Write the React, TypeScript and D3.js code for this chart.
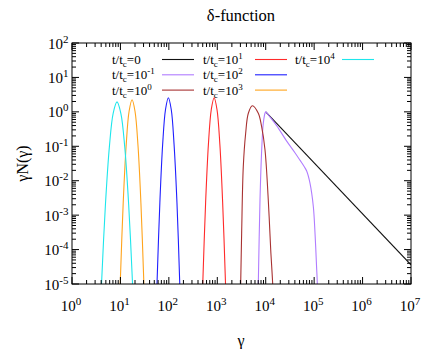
import React from "react";
import * as d3 from "d3";

// gamma, gamma*N(gamma) for each t/tc
const curveT0 = [[1e4, 1.0], [1e7, 3.6e-5]];
const curveTm1 = [
  [6918, 3.2e-6], [7031, 1e-5], [7621, 2.75e-3], [8260, 0.079], [8913, 0.468],
  [9772, 0.955], [10000, 1.0], [12589, 0.676], [16827, 0.398], [27102, 0.141],
  [39811, 0.066], [51286, 0.039], [63096, 0.0251], [70146, 0.0191], [82035, 8.5e-3],
  [96161, 1.78e-3], [103990, 3.2e-4], [112202, 3.2e-5], [116413, 1e-5], [118850, 2.5e-6],
];
const curveT0e = [
  [2951, 2.5e-6], [3041, 1e-5], [3184, 2.95e-4], [3443, 0.0257], [3855, 0.24],
  [4375, 0.91], [5297, 1.51], [7031, 0.91], [8241, 0.37], [9661, 0.079],
  [11298, 2.75e-3], [12677, 1e-4], [13932, 1e-5], [14289, 3.2e-6],
];
const curveT1 = [
  [474, 7.3e-7], [501, 1e-5], [574, 2.3e-3], [656, 0.115], [752, 1.17], [861, 2.57],
  [986, 1.17], [1130, 0.115], [1291, 2.3e-3], [1479, 1e-5], [1563, 7.3e-7],
];
const curveT2 = [
  [53.8, 7.3e-7], [56.9, 1e-5], [65.2, 2.3e-3], [74.5, 0.115], [85.3, 1.17], [97.7, 2.57],
  [112, 1.17], [128, 0.115], [147, 2.3e-3], [168, 1e-5], [177, 7.3e-7],
];
const curveT3 = [
  [9.3, 7.6e-7], [9.9, 1e-5], [11.4, 2.2e-3], [13.1, 0.1], [15.1, 1.04], [17.4, 2.24],
  [20.0, 1.04], [23.1, 0.1], [26.5, 2.2e-3], [30.5, 1e-5], [32.4, 7.6e-7],
];
const curveT4 = [
  [3.78, 7.8e-7], [4.07, 1e-5], [4.9, 2.0e-3], [5.9, 0.093], [7.08, 0.91], [8.5, 1.95],
  [10.2, 0.91], [12.3, 0.093], [14.8, 2.0e-3], [17.8, 1e-5], [19.1, 7.8e-7],
];

const seriesExp = ["0", "-1", "0", "1", "2", "3", "4"];
const seriesPlain = [true, false, false, false, false, false, false];
const seriesData = [curveT0, curveTm1, curveT0e, curveT1, curveT2, curveT3, curveT4];
const seriesColors = ["#111111", "#b07cff", "#a83232", "#ff2a2a", "#1f1fff", "#ffa41c", "#1ee6ec"];

const xExps = [0, 1, 2, 3, 4, 5, 6, 7];
const yExps = [-5, -4, -3, -2, -1, 0, 1, 2];

const W = 436, H = 349;
const L = 72, R = 411, T = 43, B = 284;

const FONT = "Liberation Serif, DejaVu Serif, serif";

export default function App() {
  const x = d3.scaleLog().domain([1, 1e7]).range([L, R]);
  const y = d3.scaleLog().domain([1e-5, 1e2]).range([B, T]);
  const line = d3.line<number[]>()
    .x((d) => x(d[0]))
    .y((d) => y(d[1]))
    .curve(d3.curveCatmullRom.alpha(0.5));

  // minor ticks 2..9 per decade
  const xMinor: number[] = [];
  xExps.slice(0, -1).forEach((e) => { for (let k = 2; k < 10; k++) xMinor.push(k * Math.pow(10, e)); });
  const yMinor: number[] = [];
  yExps.slice(0, -1).forEach((e) => { for (let k = 2; k < 10; k++) yMinor.push(k * Math.pow(10, e)); });

  const major = 7, minor = 4;

  const legendCols = [112, 203, 295];
  const legendLineX = [162, 255, 342];
  const legendRows = [59.5, 74.8, 90.1];

  return (
    <svg width={W} height={H} style={{ position: "absolute", left: 0, top: 0, background: "#fff", fontFamily: FONT }}>
      <defs>
        <clipPath id="plot">
          <rect x={L} y={T} width={R - L} height={B - T} />
        </clipPath>
      </defs>
      <text x={241} y={21} fontSize={16.5} textAnchor="middle" style={{ fontFamily: FONT }}>δ-function</text>

      {/* curves */}
      <g clipPath="url(#plot)" fill="none" strokeWidth={1.1}>
        {seriesData.map((d, i) => (
          <path key={i} d={line(d) || ""} stroke={seriesColors[i]} />
        ))}
      </g>

      {/* ticks */}
      <g stroke="#000" strokeWidth={1}>
        {xExps.map((e) => {
          const px = x(Math.pow(10, e));
          return (
            <g key={"xm" + e}>
              <line x1={px} x2={px} y1={B} y2={B - major} />
              <line x1={px} x2={px} y1={T} y2={T + major} />
            </g>
          );
        })}
        {xMinor.map((v, i) => (
          <g key={"xn" + i}>
            <line x1={x(v)} x2={x(v)} y1={B} y2={B - minor} />
            <line x1={x(v)} x2={x(v)} y1={T} y2={T + minor} />
          </g>
        ))}
        {yExps.map((e) => {
          const py = y(Math.pow(10, e));
          return (
            <g key={"ym" + e}>
              <line x1={L} x2={L + major} y1={py} y2={py} />
              <line x1={R} x2={R - major} y1={py} y2={py} />
            </g>
          );
        })}
        {yMinor.map((v, i) => (
          <g key={"yn" + i}>
            <line x1={L} x2={L + minor} y1={y(v)} y2={y(v)} />
            <line x1={R} x2={R - minor} y1={y(v)} y2={y(v)} />
          </g>
        ))}
      </g>
      <rect x={L} y={T} width={R - L} height={B - T} fill="none" stroke="#000" strokeWidth={1} />

      <g style={{ fontFamily: FONT }}>
        {/* tick labels */}
        {xExps.map((e) => (
          <text key={"xl" + e} x={x(Math.pow(10, e)) - 1} y={310.5} fontSize={15} textAnchor="middle">
            10<tspan fontSize={11} dy={-6}>{e}</tspan>
          </text>
        ))}
        {yExps.map((e) => (
          <text key={"yl" + e} x={68.5} y={y(Math.pow(10, e)) + 5.5} fontSize={15} textAnchor="end">
            10<tspan fontSize={11} dy={-6}>{e}</tspan>
          </text>
        ))}

        {/* axis labels */}
        <text x={241} y={346} fontSize={16} textAnchor="middle">γ</text>
        <text transform={`translate(28,${(T + B) / 2}) rotate(-90)`} fontSize={16} textAnchor="middle">γN(γ)</text>

        {/* legend */}
        {seriesData.map((_, i) => {
          const col = Math.floor(i / 3), row = i % 3;
          const cy = legendRows[row];
          return (
            <g key={"lg" + i}>
              <text x={legendCols[col]} y={cy + 4.5} fontSize={13}>
                t/t<tspan fontSize={9} dy={3}>c</tspan>
                <tspan dy={-3}>{seriesPlain[i] ? "=0" : "=10"}</tspan>
                {seriesPlain[i] ? null : <tspan fontSize={9} dy={-5}>{seriesExp[i]}</tspan>}
              </text>
              <line x1={legendLineX[col]} x2={legendLineX[col] + 32} y1={cy} y2={cy}
                stroke={seriesColors[i]} strokeWidth={1.1} />
            </g>
          );
        })}
      </g>
    </svg>
  );
}
